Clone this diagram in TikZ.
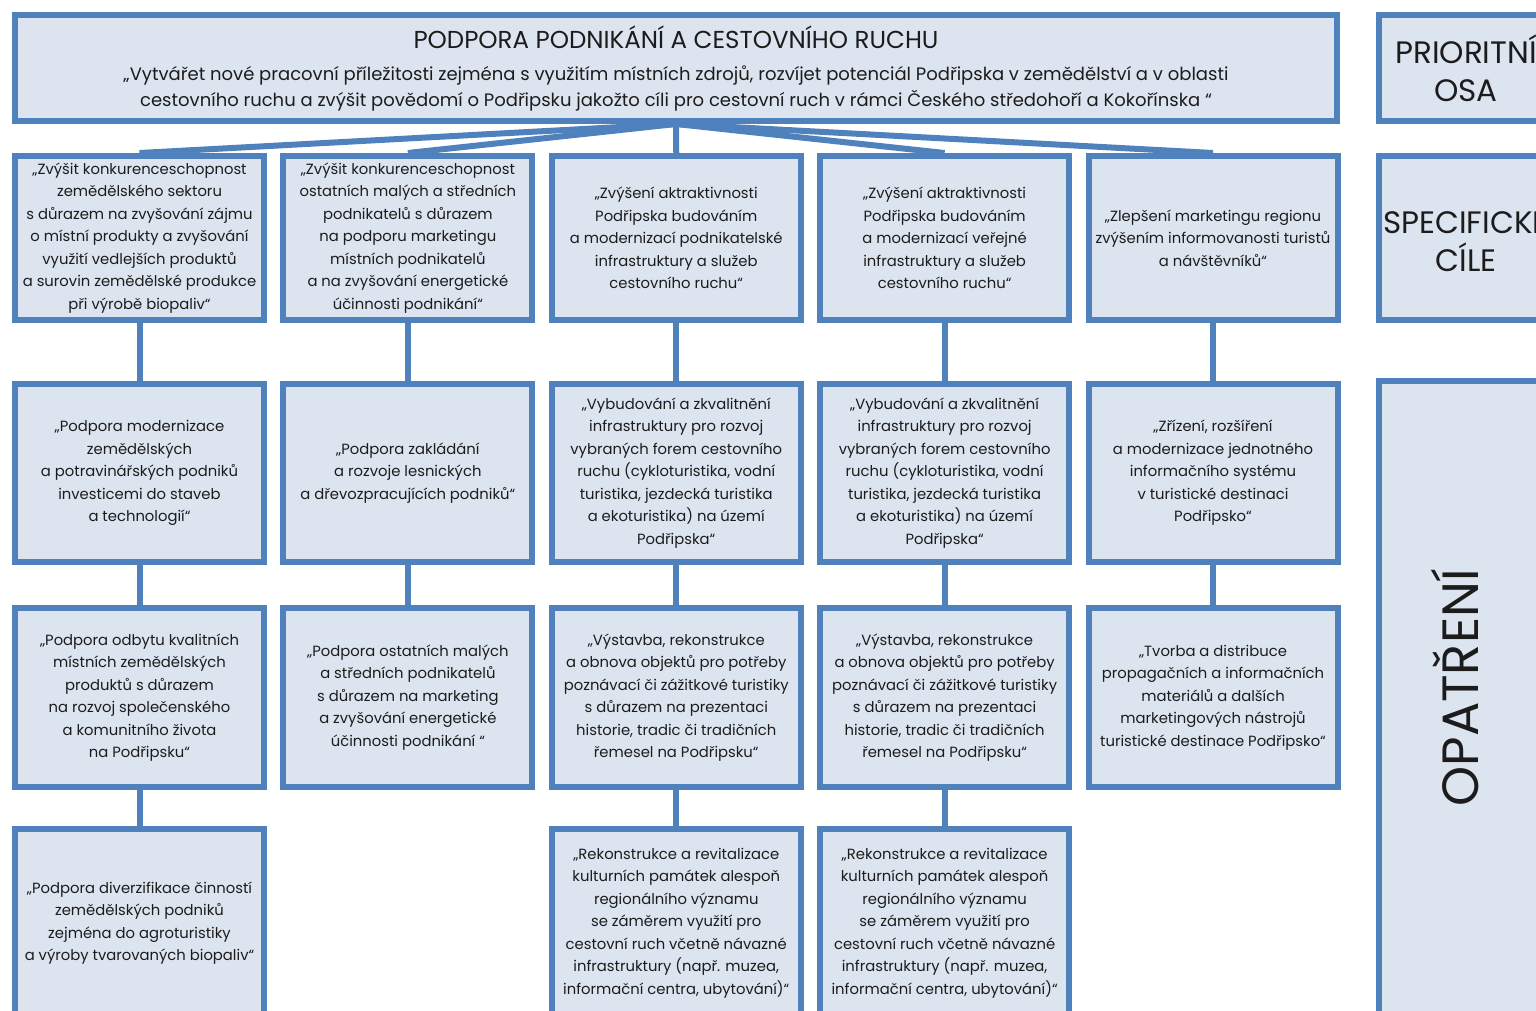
\documentclass[tikz,border=0pt]{standalone}
\usepackage{fontspec}
\setmainfont{Poppins}
\usepackage{tikz}
\usetikzlibrary{backgrounds}
\definecolor{osablue}{RGB}{79,129,189}
\definecolor{osafill}{RGB}{220,228,240}
\definecolor{osatext}{RGB}{28,28,28}

\begin{document}
\begin{tikzpicture}[x=1pt,y=-1pt]
        \tikzset{goal/.style={draw=osablue, line width=6pt, fill=osafill, text=osatext, align=center, inner sep=0pt, minimum width=249pt, font=\fontsize{14.8}{22.5}\selectfont}}
        \tikzset{tag/.style={goal, minimum width=174pt, font=\fontsize{31}{38}\selectfont}}
        \tikzset{link/.style={osablue, line width=6pt}}
        \pgfmathsetmacro{\colw}{268.375}
        \useasboundingbox (0,0) rectangle (1536,1011);
        \clip (0,0) rectangle (1536,1011);
        \node[goal, minimum width=1322pt, minimum height=106pt, font=\fontsize{18}{26}\selectfont] (top) at (676,68)
            {{\fontsize{24.5}{26}\selectfont PODPORA PODNIKÁNÍ A CESTOVNÍHO RUCHU}\\[6pt]
             „Vytvářet nové pracovní příležitosti zejména s využitím místních zdrojů, rozvíjet potenciál Podřipska v zemědělství a v oblasti\\
             cestovního ruchu a zvýšit povědomí o Podřipsku jakožto cíli pro cestovní ruch v rámci Českého středohoří a Kokořínska “};
        \node[tag, minimum height=106pt] (osa) at (1466,68) {PRIORITNÍ\\OSA};
        \node[tag, minimum height=164pt] (cile) at (1466,238) {SPECIFICKÉ\\CÍLE};
        \node[tag, minimum height=650pt] (opat) at (1466,706) {};
        \node[rotate=90, text=osatext, font=\fontsize{51}{54}\selectfont] (opatlabel) at (1455,688) {OPATŘENÍ};
        \node[goal, minimum height=164pt] (c1) at ({139.5+0*\colw},238) {„Zvýšit konkurenceschopnost\\zemědělského sektoru\\s důrazem na zvyšování zájmu\\o místní produkty a zvyšování\\využití vedlejších produktů\\a surovin zemědělské produkce\\při výrobě biopaliv“};
        \node[goal, minimum height=164pt] (c2) at ({139.5+1*\colw},238) {„Zvýšit konkurenceschopnost\\ostatních malých a středních\\podnikatelů s důrazem\\na podporu marketingu\\místních podnikatelů\\a na zvyšování energetické\\účinnosti podnikání“};
        \node[goal, minimum height=164pt] (c3) at ({139.5+2*\colw},238) {„Zvýšení aktraktivnosti\\Podřipska budováním\\a modernizací podnikatelské\\infrastruktury a služeb\\cestovního ruchu“};
        \node[goal, minimum height=164pt] (c4) at ({139.5+3*\colw},238) {„Zvýšení aktraktivnosti\\Podřipska budováním\\a modernizací veřejné\\infrastruktury a služeb\\cestovního ruchu“};
        \node[goal, minimum height=164pt] (c5) at ({139.5+4*\colw},238) {„Zlepšení marketingu regionu\\zvýšením informovanosti turistů\\a návštěvníků“};
        \node[goal, minimum height=178pt] (a1) at ({139.5+0*\colw},473) {„Podpora modernizace\\zemědělských\\a potravinářských podniků\\investicemi do staveb\\a technologií“};
        \node[goal, minimum height=178pt] (a2) at ({139.5+1*\colw},473) {„Podpora zakládání\\a rozvoje lesnických\\a dřevozpracujících podniků“};
        \node[goal, minimum height=178pt] (a3) at ({139.5+2*\colw},473) {„Vybudování a zkvalitnění\\infrastruktury pro rozvoj\\vybraných forem cestovního\\ruchu (cykloturistika, vodní\\turistika, jezdecká turistika\\a ekoturistika) na území\\Podřipska“};
        \node[goal, minimum height=178pt] (a4) at ({139.5+3*\colw},473) {„Vybudování a zkvalitnění\\infrastruktury pro rozvoj\\vybraných forem cestovního\\ruchu (cykloturistika, vodní\\turistika, jezdecká turistika\\a ekoturistika) na území\\Podřipska“};
        \node[goal, minimum height=178pt] (a5) at ({139.5+4*\colw},473) {„Zřízení, rozšíření\\a modernizace jednotného\\informačního systému\\v turistické destinaci\\Podřipsko“};
        \node[goal, minimum height=179pt] (b1) at ({139.5+0*\colw},697.5) {„Podpora odbytu kvalitních\\místních zemědělských\\produktů s důrazem\\na rozvoj společenského\\a komunitního života\\na Podřipsku“};
        \node[goal, minimum height=179pt] (b2) at ({139.5+1*\colw},697.5) {„Podpora ostatních malých\\a středních podnikatelů\\s důrazem na marketing\\a zvyšování energetické\\účinnosti podnikání “};
        \node[goal, minimum height=179pt] (b3) at ({139.5+2*\colw},697.5) {„Výstavba, rekonstrukce\\a obnova objektů pro potřeby\\poznávací či zážitkové turistiky\\s důrazem na prezentaci\\historie, tradic či tradičních\\řemesel na Podřipsku“};
        \node[goal, minimum height=179pt] (b4) at ({139.5+3*\colw},697.5) {„Výstavba, rekonstrukce\\a obnova objektů pro potřeby\\poznávací či zážitkové turistiky\\s důrazem na prezentaci\\historie, tradic či tradičních\\řemesel na Podřipsku“};
        \node[goal, minimum height=179pt] (b5) at ({139.5+4*\colw},697.5) {„Tvorba a distribuce\\propagačních a informačních\\materiálů a dalších\\marketingových nástrojů\\turistické destinace Podřipsko“};
        \node[goal, minimum height=188pt] (d1) at ({139.5+0*\colw},923) {„Podpora diverzifikace činností\\zemědělských podniků\\zejména do agroturistiky\\a výroby tvarovaných biopaliv“};
        \node[goal, minimum height=188pt] (d3) at ({139.5+2*\colw},923) {„Rekonstrukce a revitalizace\\kulturních památek alespoň\\regionálního významu\\se záměrem využití pro\\cestovní ruch včetně návazné\\infrastruktury (např. muzea,\\informační centra, ubytování)“};
        \node[goal, minimum height=188pt] (d4) at ({139.5+3*\colw},923) {„Rekonstrukce a revitalizace\\kulturních památek alespoň\\regionálního významu\\se záměrem využití pro\\cestovní ruch včetně návazné\\infrastruktury (např. muzea,\\informační centra, ubytování)“};
        \begin{pgfonlayer}{background}
            \fill[white] (0,0) rectangle (1536,1011);
            \draw[link] (top.south) -- (c1.north);
            \draw[link] (top.south) -- (c2.north);
            \draw[link] (top.south) -- (c3.north);
            \draw[link] (top.south) -- (c4.north);
            \draw[link] (top.south) -- (c5.north);
            \draw[link] (c1) -- (a1);
            \draw[link] (c2) -- (a2);
            \draw[link] (c3) -- (a3);
            \draw[link] (c4) -- (a4);
            \draw[link] (c5) -- (a5);
            \draw[link] (a1) -- (b1);
            \draw[link] (a2) -- (b2);
            \draw[link] (a3) -- (b3);
            \draw[link] (a4) -- (b4);
            \draw[link] (a5) -- (b5);
            \draw[link] (b1) -- (d1);
            \draw[link] (b3) -- (d3);
            \draw[link] (b4) -- (d4);
        \end{pgfonlayer}
    \end{tikzpicture}
\end{document}
